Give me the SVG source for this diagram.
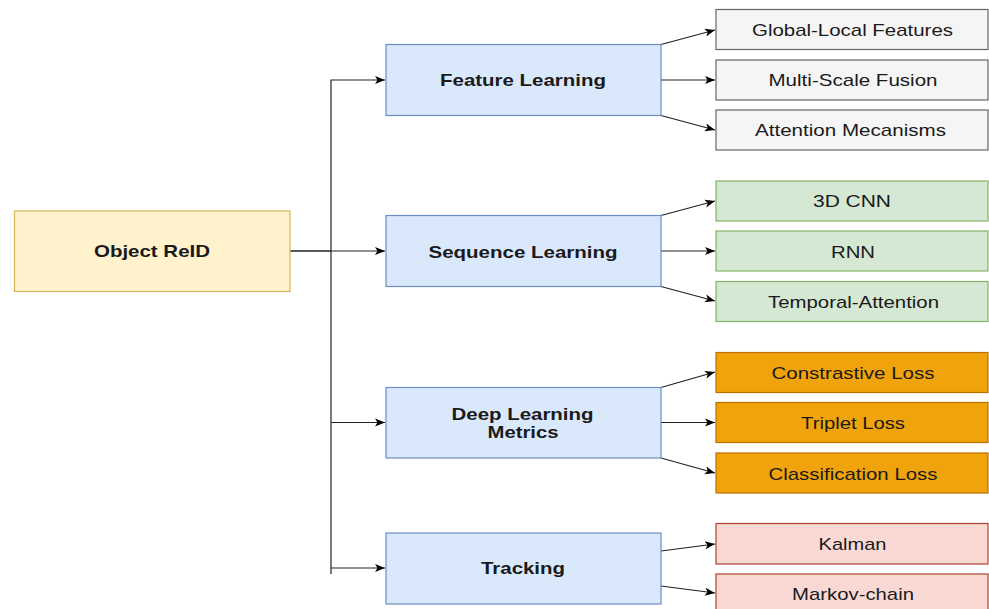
<svg xmlns="http://www.w3.org/2000/svg" width="989" height="609" viewBox="0 0 989 609">
<defs>
<marker id="arr" markerUnits="userSpaceOnUse" markerWidth="12" markerHeight="10" refX="10" refY="4" orient="auto" viewBox="0 0 12 8">
<path d="M0,0 L10,4 L0,8 L2.5,4 Z" fill="#000"/>
</marker>
<style>
rect{stroke-width:1.2}
text{font-family:"Liberation Sans",Arial,Helvetica,sans-serif;font-size:17px;fill:#1a1a1a;text-anchor:middle}
.b{font-weight:bold}
.s16{font-size:16px}
.root rect{fill:#fff2cc;stroke:#d6b656}
.mid rect{fill:#dae8fc;stroke:#6c8ebf}
.gray rect{fill:#f5f5f5;stroke:#666666}
.green rect{fill:#d5e8d4;stroke:#82b366}
.orange rect{fill:#f0a30a;stroke:#bd7000}
.red rect{fill:#fad9d5;stroke:#ae4132}
.edges path{fill:none;stroke:#222;stroke-width:1.2}
</style>
</defs>
<rect width="989" height="609" fill="#fff"/>

<g class="edges">
<path d="M290,251 H331 V80 H385" marker-end="url(#arr)"/>
<path d="M290,251 H385" marker-end="url(#arr)"/>
<path d="M331,251 V574"/>
<path d="M331,422.5 H385" marker-end="url(#arr)"/>
<path d="M331,568 H385" marker-end="url(#arr)"/>
<path d="M661,44.5 L715,30" marker-end="url(#arr)"/>
<path d="M661,80 L715,80" marker-end="url(#arr)"/>
<path d="M661,115.5 L715,130" marker-end="url(#arr)"/>
<path d="M661,215.5 L715,201" marker-end="url(#arr)"/>
<path d="M661,251 L715,251" marker-end="url(#arr)"/>
<path d="M661,286.5 L715,301" marker-end="url(#arr)"/>
<path d="M661,387.5 L715,372" marker-end="url(#arr)"/>
<path d="M661,422.5 L715,422.5" marker-end="url(#arr)"/>
<path d="M661,458 L715,473" marker-end="url(#arr)"/>
<path d="M661,551 L715,544" marker-end="url(#arr)"/>
<path d="M661,586 L715,593" marker-end="url(#arr)"/>
</g>

<g id="object-reid" class="root"><rect x="14.5" y="211" width="275.5" height="80.5"/><text class="b" x="152" y="257" textLength="116" lengthAdjust="spacingAndGlyphs">Object ReID</text></g>

<g id="feature-learning" class="mid"><rect x="386" y="44.5" width="275" height="71"/><text class="b" x="523" y="86" textLength="166" lengthAdjust="spacingAndGlyphs">Feature Learning</text></g>
<g id="sequence-learning" class="mid"><rect x="386" y="215.5" width="275" height="71"/><text class="b" x="523" y="257.5" textLength="189" lengthAdjust="spacingAndGlyphs">Sequence Learning</text></g>
<g id="deep-learning-metrics" class="mid"><rect x="386" y="387.5" width="275" height="70.5"/><text class="b s16" x="522.5" y="420" textLength="142" lengthAdjust="spacingAndGlyphs">Deep Learning</text><text class="b s16" x="523" y="438" textLength="71" lengthAdjust="spacingAndGlyphs">Metrics</text></g>
<g id="tracking" class="mid"><rect x="386" y="533" width="275" height="71"/><text class="b" x="523" y="574" textLength="84" lengthAdjust="spacingAndGlyphs">Tracking</text></g>

<g id="global-local" class="gray"><rect x="716" y="9.5" width="272" height="40"/><text x="852.5" y="36" textLength="201" lengthAdjust="spacingAndGlyphs">Global-Local Features</text></g>
<g id="multi-scale" class="gray"><rect x="716" y="60" width="272" height="40"/><text x="853" y="86" textLength="169" lengthAdjust="spacingAndGlyphs">Multi-Scale Fusion</text></g>
<g id="attention" class="gray"><rect x="716" y="110" width="272" height="40"/><text x="850.5" y="136" textLength="191" lengthAdjust="spacingAndGlyphs">Attention Mecanisms</text></g>

<g id="cnn3d" class="green"><rect x="716" y="181" width="272" height="40"/><text x="852" y="207" textLength="78" lengthAdjust="spacingAndGlyphs">3D CNN</text></g>
<g id="rnn" class="green"><rect x="716" y="231" width="272" height="40"/><text x="853" y="257.5" textLength="44" lengthAdjust="spacingAndGlyphs">RNN</text></g>
<g id="temporal-attention" class="green"><rect x="716" y="281.5" width="272" height="40"/><text x="853.5" y="307.5" textLength="171" lengthAdjust="spacingAndGlyphs">Temporal-Attention</text></g>

<g id="constrastive" class="orange"><rect x="716" y="352.5" width="272" height="40"/><text x="853" y="378.5" textLength="163" lengthAdjust="spacingAndGlyphs">Constrastive Loss</text></g>
<g id="triplet" class="orange"><rect x="716" y="402.5" width="272" height="40"/><text x="853" y="428.5" textLength="104" lengthAdjust="spacingAndGlyphs">Triplet Loss</text></g>
<g id="classification" class="orange"><rect x="716" y="453" width="272" height="40"/><text x="853" y="479.5" textLength="169" lengthAdjust="spacingAndGlyphs">Classification Loss</text></g>

<g id="kalman" class="red"><rect x="716" y="523.5" width="272" height="40.5"/><text x="852.5" y="550" textLength="68" lengthAdjust="spacingAndGlyphs">Kalman</text></g>
<g id="markov" class="red"><rect x="716" y="574" width="272" height="40"/><text x="853" y="600" textLength="122" lengthAdjust="spacingAndGlyphs">Markov-chain</text></g>
</svg>
